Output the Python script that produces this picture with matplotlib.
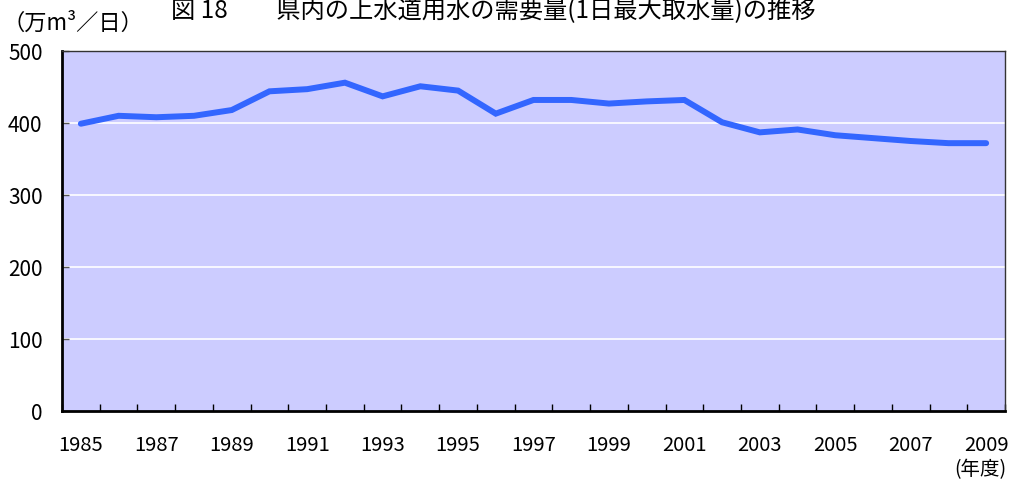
import matplotlib
matplotlib.use("Agg")
import matplotlib.pyplot as plt
import numpy as np

plt.rcParams['font.family'] = ['Noto Sans CJK JP', 'DejaVu Sans']

years = list(range(1985, 2010))
demand = [399, 410, 408, 410, 418, 444, 447, 456, 437, 451, 445, 413,
          432, 432, 427, 430, 432, 401, 387, 391, 383, 379, 375, 372, 372]
yticks = [0, 100, 200, 300, 400, 500]
xlabels = [str(y) if (y - 1985) % 2 == 0 else '' for y in years]

W, H = 1014, 483
fig = plt.figure(figsize=(W / 100, H / 100), dpi=100)
ax = fig.add_axes([62 / W, 1 - 411 / H, (1005 - 62) / W, (411 - 51) / H])
ax.set_facecolor('#CCCCFF')

x = np.arange(len(years))
ax.plot(x, demand, color='#3366FF', lw=4.3, solid_capstyle='round', solid_joinstyle='miter', zorder=3)

ax.set_xlim(-0.5, len(years) - 0.5)
ax.set_ylim(0, 500)
ax.set_yticks(yticks)
ax.set_yticklabels([str(v) for v in yticks], fontsize=15)
for v in yticks[1:-1]:
    ax.axhline(v, color='white', lw=1.2, zorder=1)

ax.set_xticks(x)
ax.set_xticklabels(xlabels, fontsize=14.5)
ax.set_xticks(np.arange(len(years) + 1) - 0.5, minor=True)
ax.tick_params(axis='x', which='major', length=0, pad=17.5)
ax.tick_params(axis='x', which='minor', direction='in', length=5, width=1, color='black')
ax.tick_params(axis='y', direction='in', length=5, width=1, color='#555555', pad=14)

for s in ['left', 'bottom']:
    ax.spines[s].set_linewidth(2)
    ax.spines[s].set_color('black')
for s in ['top', 'right']:
    ax.spines[s].set_linewidth(1)
    ax.spines[s].set_color('#333333')

fig.text(493 / W, 1 - 11 / H, '図 18　　県内の上水道用水の需要量(1日最大取水量)の推移',
         ha='center', va='center', fontsize=17.5)
fig.text(3 / W, 1 - 23 / H, '（万m³／日）', ha='left', va='center', fontsize=16)
fig.text(1006 / W, 1 - 470 / H, '(年度)', ha='right', va='center', fontsize=14)

fig.savefig('out.png', dpi=100)
